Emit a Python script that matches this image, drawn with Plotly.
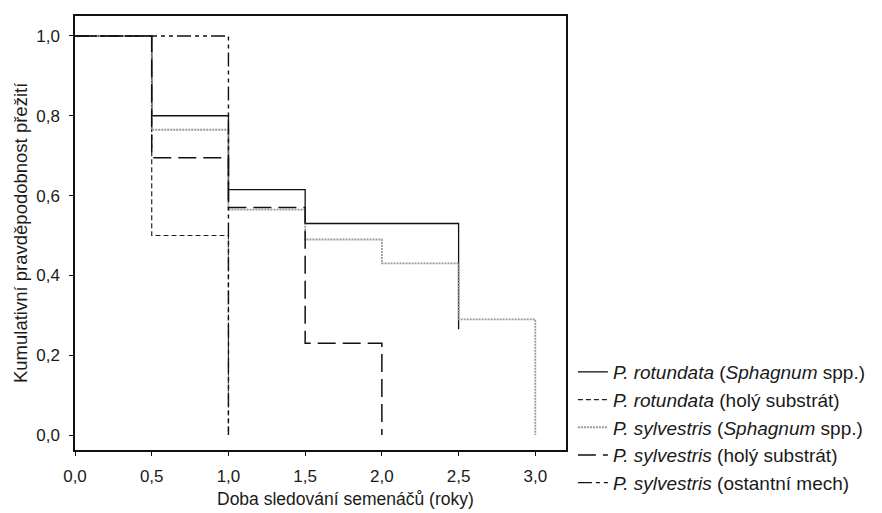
import plotly.graph_objects as go

# Kaplan-Meier step data (time in years, cumulative survival)
rot_sph_t = [0.0, 0.5, 1.0, 1.5, 2.5]
rot_sph_s = [1.0, 0.80, 0.615, 0.53, 0.265]

rot_holy_t = [0.0, 0.5, 1.0]
rot_holy_s = [1.0, 0.50, 0.0]

syl_sph_t = [0.0, 0.5, 1.0, 1.5, 2.0, 2.5, 3.0]
syl_sph_s = [1.0, 0.765, 0.565, 0.49, 0.43, 0.29, 0.0]

syl_holy_t = [0.0, 0.5, 1.0, 1.5, 2.0]
syl_holy_s = [1.0, 0.695, 0.57, 0.23, 0.0]

syl_mech_t = [0.0, 1.0]
syl_mech_s = [1.0, 0.0]

names = [
    "<i>P. rotundata</i> (<i>Sphagnum</i> spp.)",
    "<i>P. rotundata</i> (holý substrát)",
    "<i>P. sylvestris</i> (<i>Sphagnum</i> spp.)",
    "<i>P. sylvestris</i> (holý substrát)",
    "<i>P. sylvestris</i> (ostantní mech)",
]

x_ticks = [0.0, 0.5, 1.0, 1.5, 2.0, 2.5, 3.0]
y_ticks = [0.0, 0.2, 0.4, 0.6, 0.8, 1.0]

x_title = "Doba sledování semenáčů (roky)"
y_title = "Kumulativní pravděpodobnost přežití"

series = [
    (rot_sph_t, rot_sph_s, dict(color="#111111", width=1.3, dash="solid")),
    (rot_holy_t, rot_holy_s, dict(color="#222222", width=1.2, dash="5px,3px")),
    (syl_sph_t, syl_sph_s, dict(color="#9a9a9a", width=1.8, dash="2px,1px")),
    (syl_holy_t, syl_holy_s, dict(color="#111111", width=1.5, dash="18px,7px")),
    (syl_mech_t, syl_mech_s, dict(color="#111111", width=1.4, dash="14px,4px,4px,4px,4px,4px")),
]

fig = go.Figure()
for i, (t, s, ln) in enumerate(series):
    fig.add_trace(go.Scatter(
        x=t, y=s, mode="lines", line=dict(shape="hv", **ln),
        name=names[i], legendgroup=f"g{i}",
    ))

font_family = "Liberation Sans, Arial, sans-serif"
fig.update_layout(
    width=882, height=513,
    margin=dict(l=75, r=315, t=16, b=62),
    paper_bgcolor="white", plot_bgcolor="white",
    separators=", ",
    font=dict(family=font_family, size=17, color="#1a1a1a"),
    showlegend=True,
    legend=dict(
        x=1.012, xanchor="left", y=0.054, yanchor="middle",
        font=dict(size=19, color="#1a1a1a"),
        traceorder="grouped", tracegroupgap=0,
        bgcolor="rgba(0,0,0,0)",
    ),
    xaxis=dict(
        range=[0, 3.2], tickvals=x_ticks, tickformat=".1f",
        showgrid=False, zeroline=False,
        showline=True, linecolor="#111111", linewidth=1.5, mirror=True,
        ticks="outside", ticklen=4, tickcolor="#111111",
        ticklabelstandoff=6,
    ),
    yaxis=dict(
        range=[-0.0375, 1.05], tickvals=y_ticks, tickformat=".1f",
        showgrid=False, zeroline=False,
        showline=True, linecolor="#111111", linewidth=1.5, mirror=True,
        ticks="outside", ticklen=4, tickcolor="#111111",
        ticklabelstandoff=6,
    ),
    annotations=[
        dict(text=x_title, xref="paper", yref="paper", x=0.551, y=-0.1126,
             xanchor="center", yanchor="middle", showarrow=False,
             font=dict(size=17.5)),
        dict(text=y_title, xref="paper", yref="paper", x=-0.112, y=0.5,
             xanchor="center", yanchor="middle", showarrow=False, textangle=-90,
             font=dict(size=18.5)),
    ],
)

fig.write_html("out.html")
